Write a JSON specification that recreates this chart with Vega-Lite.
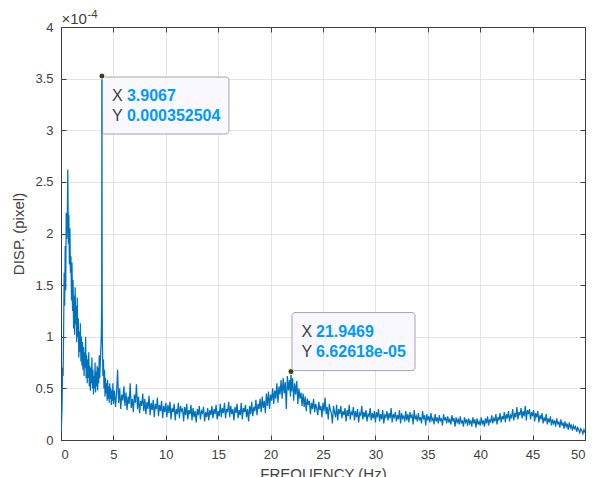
{
  "$schema": "https://vega.github.io/schema/vega-lite/v6.json",
  "width": 524,
  "height": 413,
  "autosize": {"type": "none"},
  "padding": {"left": 61, "top": 27, "right": 12, "bottom": 37},
  "background": "white",
  "config": {
    "font": "Liberation Sans",
    "view": {"stroke": null},
    "axis": {
      "labelFont": "Liberation Sans", "labelFontSize": 13, "labelColor": "#404040",
      "titleFont": "Liberation Sans", "titleFontSize": 15, "titleFontWeight": "normal", "titleColor": "#404040",
      "domainColor": "#404040", "tickColor": "#404040", "gridColor": "#E3E3E3",
      "tickSize": -5, "labelPadding": 13
    }
  },
  "datasets": {
    "tips": [
      {"name": "A", "freq": 3.9067, "disp": 3.52504, "vals": ["3.9067", "0.000352504"]},
      {"name": "B", "freq": 21.9469, "disp": 0.662618, "vals": ["21.9469", "6.62618e-05"]}
    ],
    "exponent": [
      {"base": "×10", "power": "-4"}
    ],
    "spectrum": [
      {"freq":0,"disp":0.08},{"freq":0.05,"disp":0.15},{"freq":0.1,"disp":0.33},{"freq":0.15,"disp":0.7},{"freq":0.2,"disp":0.62},
      {"freq":0.25,"disp":1.05},{"freq":0.3,"disp":1.62},{"freq":0.35,"disp":1.3},{"freq":0.4,"disp":1.88},{"freq":0.45,"disp":1.45},
      {"freq":0.5,"disp":2.2},{"freq":0.55,"disp":1.95},{"freq":0.6,"disp":2.15},{"freq":0.65,"disp":2.62},{"freq":0.7,"disp":1.9},
      {"freq":0.75,"disp":2.18},{"freq":0.8,"disp":1.7},{"freq":0.85,"disp":2.05},{"freq":0.9,"disp":1.62},{"freq":0.95,"disp":1.78},
      {"freq":1,"disp":1.35},{"freq":1.05,"disp":1.72},{"freq":1.1,"disp":1.25},{"freq":1.15,"disp":1.55},{"freq":1.2,"disp":1.08},
      {"freq":1.25,"disp":1.4},{"freq":1.3,"disp":1.02},{"freq":1.35,"disp":1.48},{"freq":1.4,"disp":1.12},{"freq":1.45,"disp":1.3},
      {"freq":1.5,"disp":0.95},{"freq":1.55,"disp":1.38},{"freq":1.6,"disp":1.0},{"freq":1.65,"disp":1.18},{"freq":1.7,"disp":0.8},
      {"freq":1.75,"disp":1.05},{"freq":1.8,"disp":0.85},{"freq":1.85,"disp":1.13},{"freq":1.9,"disp":0.76},{"freq":1.95,"disp":1.0},
      {"freq":2,"disp":0.72},{"freq":2.05,"disp":0.95},{"freq":2.1,"disp":0.68},{"freq":2.15,"disp":0.9},{"freq":2.2,"disp":0.62},
      {"freq":2.25,"disp":0.85},{"freq":2.3,"disp":0.7},{"freq":2.35,"disp":1.0},{"freq":2.4,"disp":0.6},{"freq":2.45,"disp":0.82},
      {"freq":2.5,"disp":0.55},{"freq":2.55,"disp":0.78},{"freq":2.6,"disp":0.6},{"freq":2.65,"disp":0.85},{"freq":2.7,"disp":0.52},
      {"freq":2.75,"disp":0.72},{"freq":2.8,"disp":0.48},{"freq":2.85,"disp":0.7},{"freq":2.9,"disp":0.55},{"freq":2.95,"disp":0.8},
      {"freq":3,"disp":0.5},{"freq":3.05,"disp":0.68},{"freq":3.1,"disp":0.44},{"freq":3.15,"disp":0.62},{"freq":3.2,"disp":0.5},
      {"freq":3.25,"disp":0.75},{"freq":3.3,"disp":0.46},{"freq":3.35,"disp":0.66},{"freq":3.4,"disp":0.52},{"freq":3.45,"disp":0.72},
      {"freq":3.5,"disp":0.48},{"freq":3.55,"disp":0.7},{"freq":3.6,"disp":0.55},{"freq":3.65,"disp":0.82},{"freq":3.7,"disp":0.6},
      {"freq":3.75,"disp":0.75},{"freq":3.8,"disp":0.88},{"freq":3.85,"disp":1.02},{"freq":3.88,"disp":1.4},{"freq":3.9067,"disp":3.52504},
      {"freq":3.93,"disp":1.3},{"freq":3.95,"disp":0.95},{"freq":4,"disp":0.62},{"freq":4.05,"disp":0.78},{"freq":4.1,"disp":0.5},
      {"freq":4.15,"disp":0.68},{"freq":4.2,"disp":0.42},{"freq":4.25,"disp":0.6},{"freq":4.3,"disp":0.45},{"freq":4.35,"disp":0.55},
      {"freq":4.4,"disp":0.38},{"freq":4.45,"disp":0.58},{"freq":4.5,"disp":0.4},{"freq":4.55,"disp":0.52},{"freq":4.6,"disp":0.36},
      {"freq":4.65,"disp":0.55},{"freq":4.7,"disp":0.4},{"freq":4.75,"disp":0.5},{"freq":4.8,"disp":0.34},{"freq":4.85,"disp":0.48},
      {"freq":4.9,"disp":0.38},{"freq":4.95,"disp":0.55},{"freq":5,"disp":0.35},
      {"freq":5.1,"disp":0.48},{"freq":5.2,"disp":0.32},{"freq":5.3,"disp":0.45},{"freq":5.4,"disp":0.68},{"freq":5.5,"disp":0.36},
      {"freq":5.6,"disp":0.5},{"freq":5.7,"disp":0.3},{"freq":5.8,"disp":0.44},{"freq":5.9,"disp":0.38},{"freq":6,"disp":0.52},
      {"freq":6.1,"disp":0.33},{"freq":6.2,"disp":0.46},{"freq":6.3,"disp":0.29},{"freq":6.4,"disp":0.42},{"freq":6.5,"disp":0.35},
      {"freq":6.6,"disp":0.55},{"freq":6.7,"disp":0.31},{"freq":6.8,"disp":0.4},{"freq":6.9,"disp":0.27},{"freq":7,"disp":0.44},
      {"freq":7.1,"disp":0.36},{"freq":7.2,"disp":0.54},{"freq":7.3,"disp":0.3},{"freq":7.4,"disp":0.42},{"freq":7.5,"disp":0.26},
      {"freq":7.6,"disp":0.38},{"freq":7.7,"disp":0.33},{"freq":7.8,"disp":0.45},{"freq":7.9,"disp":0.28},{"freq":8,"disp":0.4},
      {"freq":8.1,"disp":0.25},{"freq":8.2,"disp":0.37},{"freq":8.3,"disp":0.3},{"freq":8.4,"disp":0.43},{"freq":8.5,"disp":0.24},
      {"freq":8.6,"disp":0.36},{"freq":8.7,"disp":0.29},{"freq":8.8,"disp":0.39},{"freq":8.9,"disp":0.22},{"freq":9,"disp":0.35},
      {"freq":9.1,"disp":0.3},{"freq":9.2,"disp":0.41},{"freq":9.3,"disp":0.23},{"freq":9.4,"disp":0.34},{"freq":9.5,"disp":0.28},
      {"freq":9.6,"disp":0.38},{"freq":9.7,"disp":0.21},{"freq":9.8,"disp":0.33},{"freq":9.9,"disp":0.27},{"freq":10,"disp":0.36},
      {"freq":10.1,"disp":0.22},{"freq":10.2,"disp":0.34},{"freq":10.3,"disp":0.26},{"freq":10.4,"disp":0.37},{"freq":10.5,"disp":0.2},
      {"freq":10.6,"disp":0.31},{"freq":10.7,"disp":0.27},{"freq":10.8,"disp":0.35},{"freq":10.9,"disp":0.19},{"freq":11,"disp":0.3},
      {"freq":11.1,"disp":0.25},{"freq":11.2,"disp":0.36},{"freq":11.3,"disp":0.21},{"freq":11.4,"disp":0.33},{"freq":11.5,"disp":0.28},
      {"freq":11.6,"disp":0.3},{"freq":11.7,"disp":0.18},{"freq":11.8,"disp":0.32},{"freq":11.9,"disp":0.24},{"freq":12,"disp":0.35},
      {"freq":12.1,"disp":0.2},{"freq":12.2,"disp":0.29},{"freq":12.3,"disp":0.25},{"freq":12.4,"disp":0.34},{"freq":12.5,"disp":0.19},
      {"freq":12.6,"disp":0.31},{"freq":12.7,"disp":0.22},{"freq":12.8,"disp":0.28},{"freq":12.9,"disp":0.17},{"freq":13,"disp":0.3},
      {"freq":13.1,"disp":0.24},{"freq":13.2,"disp":0.33},{"freq":13.3,"disp":0.2},{"freq":13.4,"disp":0.28},{"freq":13.5,"disp":0.26},
      {"freq":13.6,"disp":0.32},{"freq":13.7,"disp":0.18},{"freq":13.8,"disp":0.27},{"freq":13.9,"disp":0.22},{"freq":14,"disp":0.31},
      {"freq":14.1,"disp":0.19},{"freq":14.2,"disp":0.29},{"freq":14.3,"disp":0.24},{"freq":14.4,"disp":0.33},{"freq":14.5,"disp":0.21},
      {"freq":14.6,"disp":0.3},{"freq":14.7,"disp":0.25},{"freq":14.8,"disp":0.34},{"freq":14.9,"disp":0.2},{"freq":15,"disp":0.28},
      {"freq":15.1,"disp":0.23},{"freq":15.2,"disp":0.35},{"freq":15.3,"disp":0.22},{"freq":15.4,"disp":0.31},{"freq":15.5,"disp":0.26},
      {"freq":15.6,"disp":0.36},{"freq":15.7,"disp":0.21},{"freq":15.8,"disp":0.3},{"freq":15.9,"disp":0.27},{"freq":16,"disp":0.37},
      {"freq":16.1,"disp":0.22},{"freq":16.2,"disp":0.33},{"freq":16.3,"disp":0.25},{"freq":16.4,"disp":0.3},{"freq":16.5,"disp":0.19},
      {"freq":16.6,"disp":0.32},{"freq":16.7,"disp":0.26},{"freq":16.8,"disp":0.35},{"freq":16.9,"disp":0.21},{"freq":17,"disp":0.29},
      {"freq":17.1,"disp":0.24},{"freq":17.2,"disp":0.36},{"freq":17.3,"disp":0.2},{"freq":17.4,"disp":0.31},{"freq":17.5,"disp":0.27},
      {"freq":17.6,"disp":0.34},{"freq":17.7,"disp":0.22},{"freq":17.8,"disp":0.3},{"freq":17.9,"disp":0.18},{"freq":18,"disp":0.33},
      {"freq":18.1,"disp":0.25},{"freq":18.2,"disp":0.37},{"freq":18.3,"disp":0.23},{"freq":18.4,"disp":0.32},{"freq":18.5,"disp":0.28},
      {"freq":18.6,"disp":0.39},{"freq":18.7,"disp":0.24},{"freq":18.8,"disp":0.35},{"freq":18.9,"disp":0.3},{"freq":19,"disp":0.4},
      {"freq":19.1,"disp":0.27},{"freq":19.2,"disp":0.42},{"freq":19.3,"disp":0.31},{"freq":19.4,"disp":0.38},{"freq":19.5,"disp":0.26},
      {"freq":19.6,"disp":0.45},{"freq":19.7,"disp":0.33},{"freq":19.8,"disp":0.47},{"freq":19.9,"disp":0.3},{"freq":20,"disp":0.44},
      {"freq":20.1,"disp":0.38},{"freq":20.2,"disp":0.5},{"freq":20.3,"disp":0.35},{"freq":20.4,"disp":0.48},{"freq":20.5,"disp":0.4},
      {"freq":20.6,"disp":0.55},{"freq":20.7,"disp":0.36},{"freq":20.8,"disp":0.52},{"freq":20.9,"disp":0.44},{"freq":21,"disp":0.58},
      {"freq":21.1,"disp":0.4},{"freq":21.2,"disp":0.6},{"freq":21.3,"disp":0.45},{"freq":21.4,"disp":0.56},{"freq":21.5,"disp":0.3},
      {"freq":21.6,"disp":0.62},{"freq":21.7,"disp":0.48},{"freq":21.8,"disp":0.58},{"freq":21.9,"disp":0.42},{"freq":21.9469,"disp":0.662618},
      {"freq":22,"disp":0.47},{"freq":22.1,"disp":0.6},{"freq":22.2,"disp":0.38},{"freq":22.3,"disp":0.55},{"freq":22.4,"disp":0.44},
      {"freq":22.5,"disp":0.57},{"freq":22.6,"disp":0.35},{"freq":22.7,"disp":0.5},{"freq":22.8,"disp":0.4},{"freq":22.9,"disp":0.46},
      {"freq":23,"disp":0.33},{"freq":23.1,"disp":0.45},{"freq":23.2,"disp":0.32},{"freq":23.3,"disp":0.42},{"freq":23.4,"disp":0.28},
      {"freq":23.5,"disp":0.4},{"freq":23.6,"disp":0.34},{"freq":23.7,"disp":0.38},{"freq":23.8,"disp":0.25},{"freq":23.9,"disp":0.36},
      {"freq":24,"disp":0.3},{"freq":24.1,"disp":0.4},{"freq":24.2,"disp":0.27},{"freq":24.3,"disp":0.35},{"freq":24.4,"disp":0.31},
      {"freq":24.5,"disp":0.24},{"freq":24.6,"disp":0.37},{"freq":24.7,"disp":0.29},{"freq":24.8,"disp":0.33},{"freq":24.9,"disp":0.22},
      {"freq":25,"disp":0.36},{"freq":25.1,"disp":0.28},{"freq":25.2,"disp":0.41},{"freq":25.3,"disp":0.25},{"freq":25.4,"disp":0.32},
      {"freq":25.5,"disp":0.2},{"freq":25.6,"disp":0.35},{"freq":25.7,"disp":0.29},{"freq":25.8,"disp":0.26},{"freq":25.9,"disp":0.16},
      {"freq":26,"disp":0.33},{"freq":26.1,"disp":0.27},{"freq":26.2,"disp":0.22},{"freq":26.3,"disp":0.34},{"freq":26.4,"disp":0.19},
      {"freq":26.5,"disp":0.3},{"freq":26.6,"disp":0.25},{"freq":26.7,"disp":0.33},{"freq":26.8,"disp":0.21},{"freq":26.9,"disp":0.28},
      {"freq":27,"disp":0.24},{"freq":27.1,"disp":0.31},{"freq":27.2,"disp":0.18},{"freq":27.3,"disp":0.29},{"freq":27.4,"disp":0.23},
      {"freq":27.5,"disp":0.34},{"freq":27.6,"disp":0.2},{"freq":27.7,"disp":0.27},{"freq":27.8,"disp":0.25},{"freq":27.9,"disp":0.32},
      {"freq":28,"disp":0.19},{"freq":28.1,"disp":0.28},{"freq":28.2,"disp":0.22},{"freq":28.3,"disp":0.3},{"freq":28.4,"disp":0.17},
      {"freq":28.5,"disp":0.26},{"freq":28.6,"disp":0.24},{"freq":28.7,"disp":0.33},{"freq":28.8,"disp":0.2},{"freq":28.9,"disp":0.27},
      {"freq":29,"disp":0.22},{"freq":29.1,"disp":0.29},{"freq":29.2,"disp":0.18},{"freq":29.3,"disp":0.25},{"freq":29.4,"disp":0.23},
      {"freq":29.5,"disp":0.31},{"freq":29.6,"disp":0.19},{"freq":29.7,"disp":0.26},{"freq":29.8,"disp":0.21},{"freq":29.9,"disp":0.28},
      {"freq":30,"disp":0.17},{"freq":30.1,"disp":0.27},{"freq":30.2,"disp":0.22},{"freq":30.3,"disp":0.3},{"freq":30.4,"disp":0.18},
      {"freq":30.5,"disp":0.25},{"freq":30.6,"disp":0.2},{"freq":30.7,"disp":0.29},{"freq":30.8,"disp":0.16},{"freq":30.9,"disp":0.24},
      {"freq":31,"disp":0.22},{"freq":31.1,"disp":0.28},{"freq":31.2,"disp":0.19},{"freq":31.3,"disp":0.26},{"freq":31.4,"disp":0.21},
      {"freq":31.5,"disp":0.31},{"freq":31.6,"disp":0.17},{"freq":31.7,"disp":0.25},{"freq":31.8,"disp":0.22},{"freq":31.9,"disp":0.27},
      {"freq":32,"disp":0.18},{"freq":32.1,"disp":0.24},{"freq":32.2,"disp":0.2},{"freq":32.3,"disp":0.29},{"freq":32.4,"disp":0.16},
      {"freq":32.5,"disp":0.26},{"freq":32.6,"disp":0.21},{"freq":32.7,"disp":0.23},{"freq":32.8,"disp":0.18},{"freq":32.9,"disp":0.28},
      {"freq":33,"disp":0.19},{"freq":33.1,"disp":0.25},{"freq":33.2,"disp":0.17},{"freq":33.3,"disp":0.27},{"freq":33.4,"disp":0.22},
      {"freq":33.5,"disp":0.24},{"freq":33.6,"disp":0.15},{"freq":33.7,"disp":0.29},{"freq":33.8,"disp":0.2},{"freq":33.9,"disp":0.23},
      {"freq":34,"disp":0.18},{"freq":34.1,"disp":0.26},{"freq":34.2,"disp":0.19},{"freq":34.3,"disp":0.22},{"freq":34.4,"disp":0.16},
      {"freq":34.5,"disp":0.28},{"freq":34.6,"disp":0.2},{"freq":34.7,"disp":0.24},{"freq":34.8,"disp":0.14},{"freq":34.9,"disp":0.25},
      {"freq":35,"disp":0.19},{"freq":35.1,"disp":0.23},{"freq":35.2,"disp":0.17},{"freq":35.3,"disp":0.26},{"freq":35.4,"disp":0.19},
      {"freq":35.5,"disp":0.21},{"freq":35.6,"disp":0.15},{"freq":35.7,"disp":0.25},{"freq":35.8,"disp":0.18},{"freq":35.9,"disp":0.22},
      {"freq":36,"disp":0.16},{"freq":36.1,"disp":0.24},{"freq":36.2,"disp":0.18},{"freq":36.3,"disp":0.21},{"freq":36.4,"disp":0.14},
      {"freq":36.5,"disp":0.25},{"freq":36.6,"disp":0.19},{"freq":36.7,"disp":0.22},{"freq":36.8,"disp":0.16},{"freq":36.9,"disp":0.23},
      {"freq":37,"disp":0.17},{"freq":37.1,"disp":0.2},{"freq":37.2,"disp":0.15},{"freq":37.3,"disp":0.24},{"freq":37.4,"disp":0.18},
      {"freq":37.5,"disp":0.21},{"freq":37.6,"disp":0.13},{"freq":37.7,"disp":0.22},{"freq":37.8,"disp":0.17},{"freq":37.9,"disp":0.2},
      {"freq":38,"disp":0.15},{"freq":38.1,"disp":0.23},{"freq":38.2,"disp":0.16},{"freq":38.3,"disp":0.19},{"freq":38.4,"disp":0.13},
      {"freq":38.5,"disp":0.22},{"freq":38.6,"disp":0.17},{"freq":38.7,"disp":0.2},{"freq":38.8,"disp":0.14},{"freq":38.9,"disp":0.21},
      {"freq":39,"disp":0.16},{"freq":39.1,"disp":0.19},{"freq":39.2,"disp":0.13},{"freq":39.3,"disp":0.22},{"freq":39.4,"disp":0.16},
      {"freq":39.5,"disp":0.2},{"freq":39.6,"disp":0.12},{"freq":39.7,"disp":0.21},{"freq":39.8,"disp":0.15},{"freq":39.9,"disp":0.18},
      {"freq":40,"disp":0.14},{"freq":40.1,"disp":0.22},{"freq":40.2,"disp":0.15},{"freq":40.3,"disp":0.19},{"freq":40.4,"disp":0.13},
      {"freq":40.5,"disp":0.21},{"freq":40.6,"disp":0.16},{"freq":40.7,"disp":0.23},{"freq":40.8,"disp":0.14},{"freq":40.9,"disp":0.2},
      {"freq":41,"disp":0.17},{"freq":41.1,"disp":0.24},{"freq":41.2,"disp":0.16},{"freq":41.3,"disp":0.21},{"freq":41.4,"disp":0.18},
      {"freq":41.5,"disp":0.25},{"freq":41.6,"disp":0.15},{"freq":41.7,"disp":0.22},{"freq":41.8,"disp":0.19},{"freq":41.9,"disp":0.26},
      {"freq":42,"disp":0.17},{"freq":42.1,"disp":0.23},{"freq":42.2,"disp":0.2},{"freq":42.3,"disp":0.27},{"freq":42.4,"disp":0.17},
      {"freq":42.5,"disp":0.25},{"freq":42.6,"disp":0.21},{"freq":42.7,"disp":0.28},{"freq":42.8,"disp":0.18},{"freq":42.9,"disp":0.24},
      {"freq":43,"disp":0.22},{"freq":43.1,"disp":0.3},{"freq":43.2,"disp":0.19},{"freq":43.3,"disp":0.26},{"freq":43.4,"disp":0.22},
      {"freq":43.5,"disp":0.32},{"freq":43.6,"disp":0.2},{"freq":43.7,"disp":0.27},{"freq":43.8,"disp":0.24},{"freq":43.9,"disp":0.31},
      {"freq":44,"disp":0.21},{"freq":44.1,"disp":0.28},{"freq":44.2,"disp":0.23},{"freq":44.3,"disp":0.33},{"freq":44.4,"disp":0.19},
      {"freq":44.5,"disp":0.29},{"freq":44.6,"disp":0.25},{"freq":44.7,"disp":0.3},{"freq":44.8,"disp":0.2},{"freq":44.9,"disp":0.27},
      {"freq":45,"disp":0.23},{"freq":45.1,"disp":0.29},{"freq":45.2,"disp":0.18},{"freq":45.3,"disp":0.26},{"freq":45.4,"disp":0.22},
      {"freq":45.5,"disp":0.28},{"freq":45.6,"disp":0.17},{"freq":45.7,"disp":0.24},{"freq":45.8,"disp":0.2},{"freq":45.9,"disp":0.26},
      {"freq":46,"disp":0.16},{"freq":46.1,"disp":0.22},{"freq":46.2,"disp":0.18},{"freq":46.3,"disp":0.25},{"freq":46.4,"disp":0.15},
      {"freq":46.5,"disp":0.21},{"freq":46.6,"disp":0.17},{"freq":46.7,"disp":0.23},{"freq":46.8,"disp":0.14},{"freq":46.9,"disp":0.2},
      {"freq":47,"disp":0.16},{"freq":47.1,"disp":0.19},{"freq":47.2,"disp":0.13},{"freq":47.3,"disp":0.21},{"freq":47.4,"disp":0.15},
      {"freq":47.5,"disp":0.18},{"freq":47.6,"disp":0.12},{"freq":47.7,"disp":0.2},{"freq":47.8,"disp":0.14},{"freq":47.9,"disp":0.17},
      {"freq":48,"disp":0.11},{"freq":48.1,"disp":0.18},{"freq":48.2,"disp":0.13},{"freq":48.3,"disp":0.16},{"freq":48.4,"disp":0.1},
      {"freq":48.5,"disp":0.17},{"freq":48.6,"disp":0.12},{"freq":48.7,"disp":0.15},{"freq":48.8,"disp":0.09},{"freq":48.9,"disp":0.14},
      {"freq":49,"disp":0.11},{"freq":49.1,"disp":0.13},{"freq":49.2,"disp":0.08},{"freq":49.3,"disp":0.12},{"freq":49.4,"disp":0.1},
      {"freq":49.5,"disp":0.07},{"freq":49.6,"disp":0.11},{"freq":49.7,"disp":0.09},{"freq":49.8,"disp":0.06},{"freq":49.9,"disp":0.1},
      {"freq":50,"disp":0.07}
    ]
  },
  "layer": [
    {
      "data": {"name": "tips"},
      "transform": [{"filter": "datum.name == 'A'"}],
      "mark": {"type": "point", "shape": "M3,1 H124 A3,3 0 0 1 127,4 V55 A3,3 0 0 1 124,58 H3 A3,3 0 0 1 0,55 V4 A3,3 0 0 1 3,1 Z", "size": 4, "filled": true, "fill": "#F8F8FE", "stroke": "#A6A6A6", "strokeWidth": 1, "opacity": 1},
      "encoding": {
        "x": {"field": "freq", "type": "quantitative", "axis": null, "scale": {"domain": [0, 50]}},
        "y": {"field": "disp", "type": "quantitative", "axis": null, "scale": {"domain": [0, 4]}}
      }
    },
    {
      "data": {"name": "tips"},
      "transform": [{"filter": "datum.name == 'B'"}],
      "mark": {"type": "point", "shape": "M4,-59 H121 A3,3 0 0 1 124,-56 V-4 A3,3 0 0 1 121,-1 H4 A3,3 0 0 1 1,-4 V-56 A3,3 0 0 1 4,-59 Z", "size": 4, "filled": true, "fill": "#F8F8FE", "stroke": "#A6A6A6", "strokeWidth": 1, "opacity": 1},
      "encoding": {
        "x": {"field": "freq", "type": "quantitative", "axis": null},
        "y": {"field": "disp", "type": "quantitative", "axis": null}
      }
    },
    {
      "data": {"name": "spectrum"},
      "mark": {"type": "line", "color": "#0072BD", "strokeWidth": 1.25, "clip": true},
      "encoding": {
        "x": {"field": "freq", "type": "quantitative", "scale": {"domain": [0, 50], "nice": false},
          "axis": {"orient": "bottom", "values": [0,5,10,15,20,25,30,35,40,45,50], "title": "FREQUENCY (Hz)", "grid": true, "titlePadding": 5}},
        "y": {"field": "disp", "type": "quantitative", "scale": {"domain": [0, 4], "nice": false},
          "axis": {"orient": "left", "values": [0,0.5,1,1.5,2,2.5,3,3.5,4], "format": "~g", "title": "DISP. (pixel)", "grid": true, "titlePadding": 8}}
      }
    },
    {
      "data": {"name": "tips"},
      "transform": [{"filter": "datum.name == 'A'"}],
      "mark": {"type": "text", "text": ["X", "Y"], "align": "left", "baseline": "middle", "dx": 10, "dy": 19.8, "fontSize": 16, "color": "#404040", "lineHeight": 20.5},
      "encoding": {
        "x": {"field": "freq", "type": "quantitative", "axis": null},
        "y": {"field": "disp", "type": "quantitative", "axis": null}
      }
    },
    {
      "data": {"name": "tips"},
      "transform": [{"filter": "datum.name == 'A'"}],
      "mark": {"type": "text", "align": "left", "baseline": "middle", "dx": 25, "dy": 19.8, "fontSize": 16, "fontWeight": "bold", "color": "#0099FF", "lineHeight": 20.5},
      "encoding": {
        "x": {"field": "freq", "type": "quantitative", "axis": null},
        "y": {"field": "disp", "type": "quantitative", "axis": null},
        "text": {"field": "vals", "type": "nominal"}
      }
    },
    {
      "data": {"name": "tips"},
      "transform": [{"filter": "datum.name == 'B'"}],
      "mark": {"type": "text", "text": ["X", "Y"], "align": "left", "baseline": "middle", "dx": 10.5, "dy": -39.8, "fontSize": 16, "color": "#404040", "lineHeight": 20.5},
      "encoding": {
        "x": {"field": "freq", "type": "quantitative", "axis": null},
        "y": {"field": "disp", "type": "quantitative", "axis": null}
      }
    },
    {
      "data": {"name": "tips"},
      "transform": [{"filter": "datum.name == 'B'"}],
      "mark": {"type": "text", "align": "left", "baseline": "middle", "dx": 25, "dy": -39.8, "fontSize": 16, "fontWeight": "bold", "color": "#0099FF", "lineHeight": 20.5},
      "encoding": {
        "x": {"field": "freq", "type": "quantitative", "axis": null},
        "y": {"field": "disp", "type": "quantitative", "axis": null},
        "text": {"field": "vals", "type": "nominal"}
      }
    },
    {
      "data": {"name": "exponent"},
      "mark": {"type": "text", "align": "left", "baseline": "alphabetic", "dx": 0.5, "dy": -3, "fontSize": 15, "color": "#404040"},
      "encoding": {
        "x": {"datum": 0, "type": "quantitative", "axis": null},
        "y": {"datum": 4, "type": "quantitative", "axis": null},
        "text": {"field": "base", "type": "nominal"}
      }
    },
    {
      "data": {"name": "exponent"},
      "mark": {"type": "text", "align": "left", "baseline": "alphabetic", "dx": 26.5, "dy": -9, "fontSize": 11.5, "color": "#404040"},
      "encoding": {
        "x": {"datum": 0, "type": "quantitative", "axis": null},
        "y": {"datum": 4, "type": "quantitative", "axis": null},
        "text": {"field": "power", "type": "nominal"}
      }
    },
    {
      "data": {"name": "tips"},
      "mark": {"type": "point", "filled": true, "fill": "#3A3A3A", "stroke": "#FFFFC0", "strokeWidth": 1, "size": 36, "opacity": 1},
      "encoding": {
        "x": {"field": "freq", "type": "quantitative",
          "axis": {"orient": "top", "values": [0,5,10,15,20,25,30,35,40,45,50], "labels": false, "title": null, "grid": false}},
        "y": {"field": "disp", "type": "quantitative",
          "axis": {"orient": "right", "values": [0,0.5,1,1.5,2,2.5,3,3.5,4], "labels": false, "title": null, "grid": false}}
      }
    }
  ],
  "resolve": {"axis": {"x": "independent", "y": "independent"}}
}
